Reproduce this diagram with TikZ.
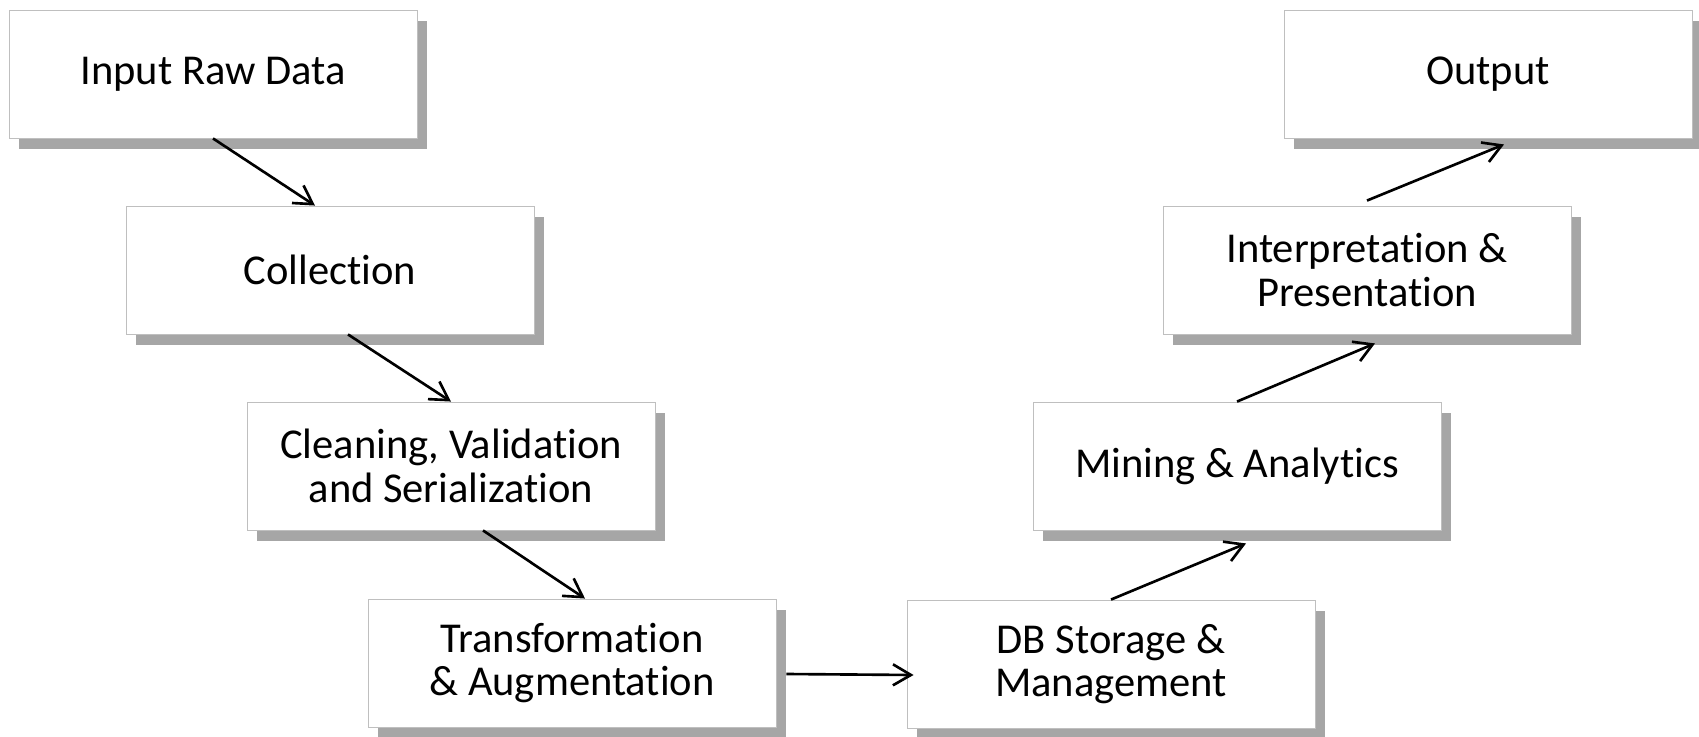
\documentclass[tikz,border=0pt]{standalone}
\usepackage{fontspec}
\setmainfont[Ligatures=NoCommon]{Carlito}
\usetikzlibrary{shadows,arrows.meta}
\begin{document}
\begin{tikzpicture}[>={Straight Barb[length=0.36cm,width=0.42cm]},
    stage/.style={draw=black!25,line width=0.5pt,fill=white,minimum width=8.16cm,minimum height=2.56cm,
        align=center,font=\fontsize{24.2}{24.8}\selectfont,
        drop shadow={shadow xshift=0.2cm,shadow yshift=-0.22cm,fill=black!35,opacity=1}},
    flow/.style={->,line width=1.5pt}]
    \useasboundingbox(0,0)rectangle(33.98,-14.72);
    % left branch, going down
    \node[stage](in)at(4.26,-1.48){Input Raw Data};
    \node[stage](col)at(6.60,-5.40){Collection};
    \node[stage](cl)at(9.02,-9.32){Cleaning, Validation\\and Serialization};
    \node[stage](tr)at(11.44,-13.26){Transformation\\\& Augmentation};
    % right branch, going up
    \node[stage](db)at(22.22,-13.28){DB Storage \&\\Management};
    \node[stage](mi)at(24.74,-9.32){Mining \& Analytics};
    \node[stage](ip)at(27.34,-5.40){Interpretation \&\\Presentation};
    \node[stage](out)at(29.76,-1.48){Output};
    \draw[flow](in.south)--([xshift=-0.3cm]col.north);
    \draw[flow]([xshift=0.36cm]col.south)--(cl.north);
    \draw[flow]([xshift=0.64cm]cl.south)--([xshift=0.26cm]tr.north);
    \draw[flow]([shift={(0.2,-0.22)}]tr.east)--([shift={(0.14,-0.22)}]db.west);
    \draw[flow](db.north)--([shift={(0.18,-0.26)}]mi.south);
    \draw[flow](mi.north)--([shift={(0.16,-0.18)}]ip.south);
    \draw[flow]([yshift=0.1cm]ip.north)--([shift={(0.32,-0.12)}]out.south);
\end{tikzpicture}
\end{document}
